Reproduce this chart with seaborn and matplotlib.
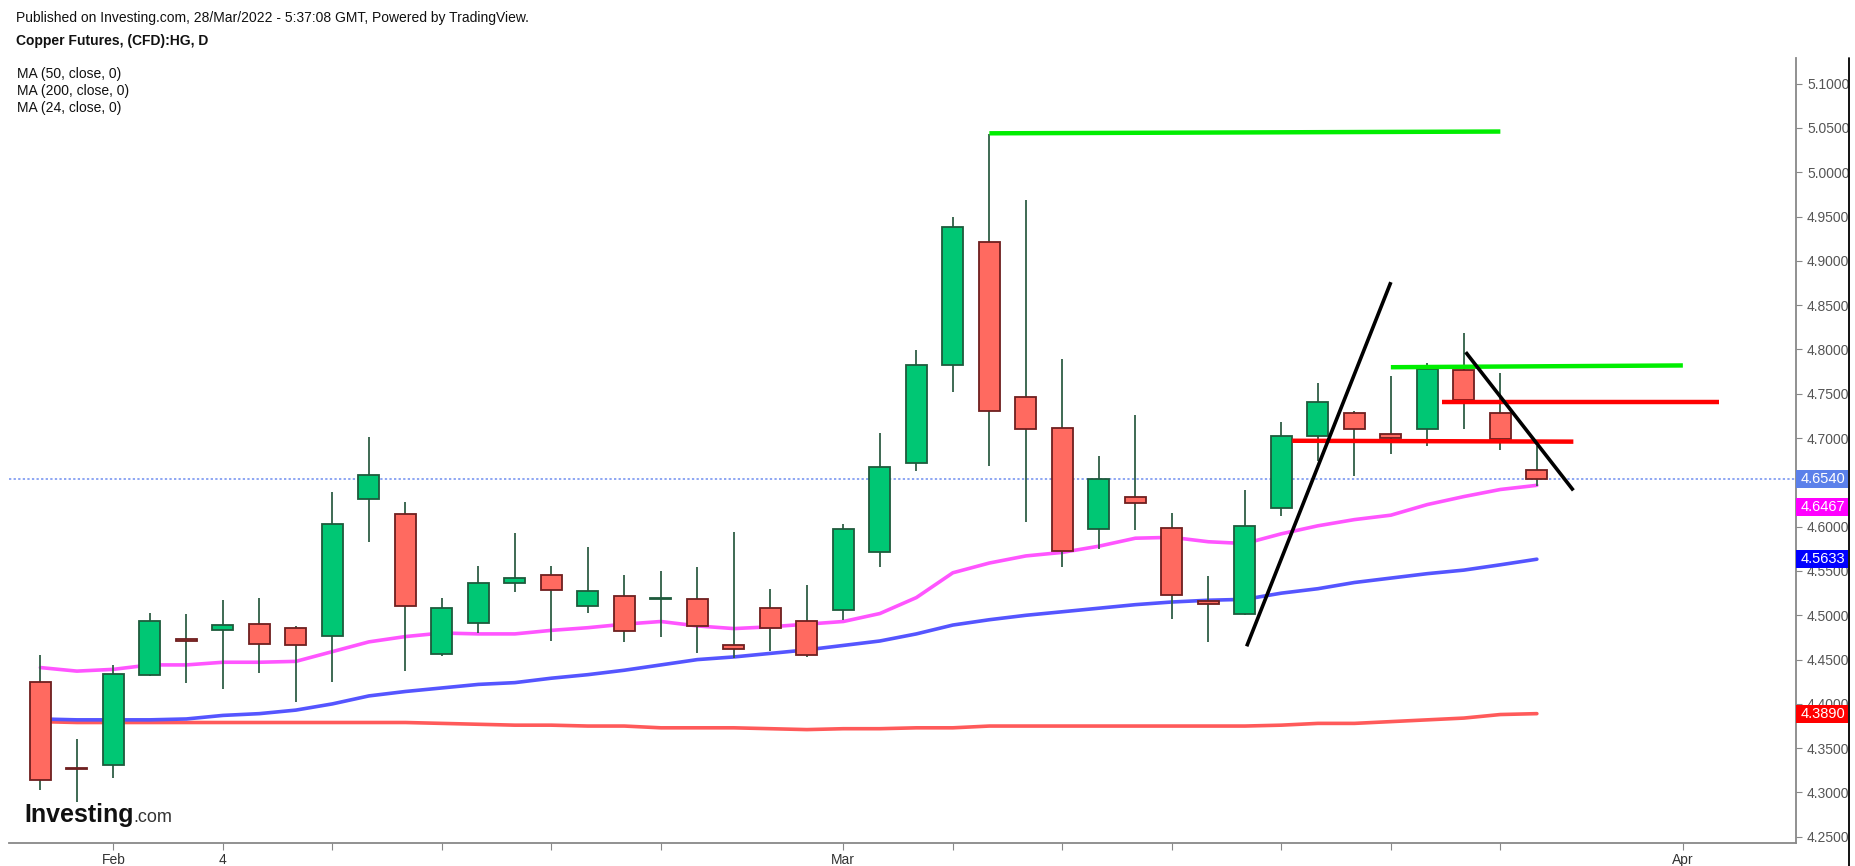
import numpy as np
import pandas as pd
import matplotlib
matplotlib.use("Agg")
import matplotlib.pyplot as plt
import matplotlib.transforms as mtransforms
from matplotlib.lines import Line2D
from matplotlib.patches import Rectangle
import seaborn as sns

# dati (candele giornaliere 28 gen - 28 mar 2022)
opens = [4.425, 4.328, 4.331, 4.433, 4.473, 4.483, 4.490, 4.486, 4.477, 4.631,
         4.614, 4.456, 4.491, 4.537, 4.546, 4.510, 4.522, 4.518, 4.518, 4.466,
         4.508, 4.493, 4.506, 4.571, 4.672, 4.783, 4.921, 4.746, 4.711, 4.597,
         4.634, 4.598, 4.516, 4.502, 4.621, 4.702, 4.728, 4.705, 4.710, 4.777,
         4.728, 4.664]
highs = [4.455, 4.360, 4.444, 4.503, 4.502, 4.517, 4.520, 4.488, 4.639, 4.701,
         4.628, 4.520, 4.556, 4.593, 4.556, 4.577, 4.545, 4.550, 4.554, 4.594,
         4.530, 4.534, 4.603, 4.706, 4.799, 4.950, 5.043, 4.969, 4.789, 4.680,
         4.726, 4.616, 4.544, 4.641, 4.718, 4.762, 4.731, 4.770, 4.785, 4.819,
         4.774, 4.691]
lows = [4.303, 4.289, 4.316, 4.431, 4.424, 4.417, 4.435, 4.402, 4.425, 4.583,
        4.437, 4.454, 4.480, 4.526, 4.471, 4.503, 4.470, 4.476, 4.458, 4.452,
        4.460, 4.453, 4.495, 4.554, 4.663, 4.752, 4.669, 4.605, 4.555, 4.575,
        4.596, 4.496, 4.470, 4.500, 4.612, 4.674, 4.657, 4.682, 4.691, 4.710,
        4.687, 4.646]
closes = [4.314, 4.326, 4.434, 4.493, 4.471, 4.489, 4.468, 4.466, 4.603, 4.658,
          4.510, 4.508, 4.537, 4.542, 4.529, 4.527, 4.482, 4.519, 4.488, 4.462,
          4.486, 4.455, 4.597, 4.667, 4.782, 4.938, 4.731, 4.710, 4.573, 4.654,
          4.627, 4.523, 4.513, 4.601, 4.702, 4.741, 4.710, 4.700, 4.778, 4.743,
          4.699, 4.654]

ma24 = [4.441, 4.437, 4.439, 4.444, 4.444, 4.447, 4.447, 4.448, 4.459, 4.470,
        4.476, 4.480, 4.479, 4.479, 4.483, 4.486, 4.490, 4.493, 4.488, 4.485,
        4.487, 4.490, 4.493, 4.502, 4.520, 4.548, 4.559, 4.567, 4.571, 4.578,
        4.587, 4.588, 4.583, 4.581, 4.592, 4.601, 4.608, 4.613, 4.625, 4.634,
        4.642, 4.6467]
ma50 = [4.383, 4.382, 4.382, 4.382, 4.383, 4.387, 4.389, 4.393, 4.400, 4.409,
        4.414, 4.418, 4.422, 4.424, 4.429, 4.433, 4.438, 4.444, 4.450, 4.453,
        4.457, 4.461, 4.466, 4.471, 4.479, 4.489, 4.495, 4.500, 4.504, 4.508,
        4.512, 4.515, 4.517, 4.518, 4.525, 4.530, 4.537, 4.542, 4.547, 4.551,
        4.557, 4.5633]
ma200 = [4.380, 4.379, 4.379, 4.379, 4.379, 4.379, 4.379, 4.379, 4.379, 4.379,
         4.379, 4.378, 4.377, 4.376, 4.376, 4.375, 4.375, 4.373, 4.373, 4.373,
         4.372, 4.371, 4.372, 4.372, 4.373, 4.373, 4.375, 4.375, 4.375, 4.375,
         4.375, 4.375, 4.375, 4.375, 4.376, 4.378, 4.378, 4.380, 4.382, 4.384,
         4.388, 4.389]

# etichette asse x (ogni 3 sedute)
tick_pos = [2, 5, 8, 11, 14, 17, 22, 25, 28, 31, 34, 37, 40, 45]
tick_lab = ["Feb", "4", "", "", "", "", "Mar", "", "", "", "", "", "", "Apr"]

# linee disegnate a mano sul grafico: (x0, x1, y0, y1)
green_lines = [(26.0, 40.0, 5.044, 5.046), (37.0, 45.0, 4.780, 4.782)]
red_lines = [(38.4, 46.0, 4.741, 4.741), (34.3, 42.0, 4.697, 4.696)]
black_lines = [(33.05, 37.0, 4.465, 4.876), (39.05, 42.0, 4.797, 4.641)]

yticks = np.arange(4.25, 5.1001, 0.05)

sns.set_style("white")
plt.rcParams['font.family'] = ['Liberation Sans', 'DejaVu Sans']

df = pd.DataFrame({"idx": np.arange(len(opens)), "open": opens, "high": highs,
                   "low": lows, "close": closes, "ma24": ma24, "ma50": ma50,
                   "ma200": ma200})

fig = plt.figure(figsize=(18.55, 8.66), dpi=100)
ax = fig.add_axes([9 / 1855, 23 / 866, 1787 / 1855, 785 / 866])

# medie mobili
sns.lineplot(data=df, x="idx", y="ma200", ax=ax, color="#ff5a5a", lw=2.6, zorder=2)
sns.lineplot(data=df, x="idx", y="ma50", ax=ax, color="#5555ff", lw=2.6, zorder=2)
sns.lineplot(data=df, x="idx", y="ma24", ax=ax, color="#ff55ff", lw=2.6, zorder=2)

# candele
for i, row in df.iterrows():
    g = row["close"] >= row["open"]
    ax.vlines(row["idx"], row["low"], row["high"], color="#2f5e45", lw=1.3, zorder=3)
    bot = min(row["open"], row["close"])
    h = max(abs(row["close"] - row["open"]), 0.0015)
    ax.bar(row["idx"], h, bottom=bot, width=0.58,
           color="#00c774" if g else "#ff6a60",
           edgecolor="#1e5a3c" if g else "#6e1f1f", lw=1.3, zorder=4)

# ultimo prezzo
ax.axhline(closes[-1], color="#6f8ef0", lw=1.1, ls=(0, (1.5, 1.5)), zorder=1)

for x0, x1, y0, y1 in green_lines:
    ax.plot([x0, x1], [y0, y1], color="#00ee00", lw=3.2, zorder=5, solid_capstyle="butt")
for x0, x1, y0, y1 in red_lines:
    ax.plot([x0, x1], [y0, y1], color="#ff0000", lw=3.2, zorder=5, solid_capstyle="butt")
for x0, x1, y0, y1 in black_lines:
    ax.plot([x0, x1], [y0, y1], color="#000000", lw=2.6, zorder=5, solid_capstyle="butt")

ax.set_xlim(-0.86, 48.1)
ax.set_ylim(4.243, 5.129)
ax.set_xlabel("")
ax.set_ylabel("")
ax.set_xticks(tick_pos)
ax.set_xticklabels(tick_lab)
ax.yaxis.tick_right()
ax.set_yticks(yticks)
ax.set_yticklabels([f"{v:.4f}" for v in yticks])
ax.tick_params(axis="y", direction="out", length=4, color="#888888", labelsize=10,
               labelcolor="#555555", pad=4, right=True)
ax.tick_params(axis="x", direction="out", length=5, color="#888888", labelsize=10,
               labelcolor="#333333", pad=2, bottom=True)
for s in ["top", "left"]:
    ax.spines[s].set_visible(False)
for s in ["right", "bottom"]:
    ax.spines[s].set_color("#888888")
    ax.spines[s].set_linewidth(1.3)

# etichette di prezzo colorate sull'asse (coprono in parte 4.5500 e 4.4000 come nell'originale)
trans = mtransforms.blended_transform_factory(ax.transAxes, ax.transData)
box_w = 52 / 1787
box_h = 0.0205
labels = [(closes[-1], closes[-1], "#5b80ea"), (ma24[-1], ma24[-1] - 0.0245, "#ff00ff"),
          (ma50[-1], ma50[-1], "#0000ff"), (ma200[-1], ma200[-1], "#ff0000")]
for val, ypos, col in labels:
    ax.add_patch(Rectangle((1.0, ypos - box_h / 2), box_w, box_h, transform=trans,
                           facecolor=col, edgecolor="none", clip_on=False, zorder=10))
    ax.text(1.0 + box_w / 2 + 0.0005, ypos, f"{val:.4f}", transform=trans, color="white",
            fontsize=10.5, ha="center", va="center", clip_on=False, zorder=11)

# bordo destro
fig.add_artist(Line2D([1849 / 1855, 1849 / 1855], [0, 1 - 58 / 866], color="black", lw=1.3))

# testi in alto
fig.text(16 / 1855, 1 - 18 / 866, "Published on Investing.com, 28/Mar/2022 - 5:37:08 GMT, Powered by TradingView.",
         fontsize=10, va="center", color="#111111")
fig.text(16 / 1855, 1 - 41 / 866, "Copper Futures, (CFD):HG, D", fontsize=10,
         fontweight="bold", va="center", color="#111111")
for k, t in enumerate(["MA (50, close, 0)", "MA (200, close, 0)", "MA (24, close, 0)"]):
    fig.text(17 / 1855, 1 - (74 + 17 * k) / 866, t, fontsize=10, va="center", color="#111111")

# logo
fig.text(24 / 1855, 1 - 822 / 866, "Investing", fontsize=18, fontweight="bold",
         va="baseline", color="#111111")
fig.text(133 / 1855, 1 - 822 / 866, ".com", fontsize=13, va="baseline", color="#333333")

fig.savefig("out.png", dpi=100, facecolor="white")
